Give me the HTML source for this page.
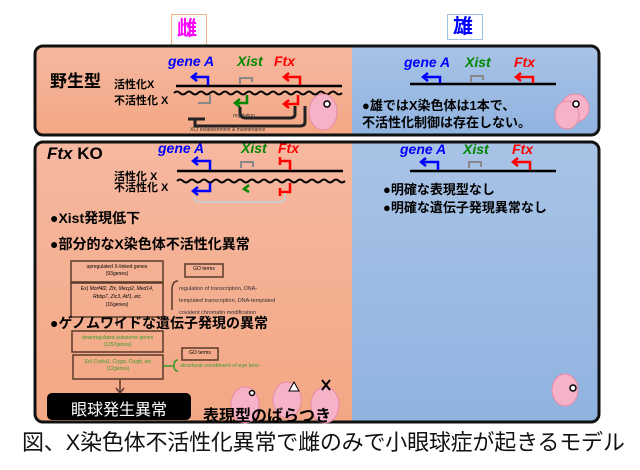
<!DOCTYPE html>
<html><head><meta charset="utf-8"><style>
*{margin:0;padding:0;box-sizing:border-box}
body{width:640px;height:470px;background:#fff;position:relative;overflow:hidden;font-family:"Liberation Sans","Noto Sans CJK JP",sans-serif}
.a{position:absolute;white-space:nowrap}
.b{font-weight:bold}
.i{font-style:italic;font-weight:bold}
</style></head><body>
<svg width="640" height="470" style="position:absolute;left:0;top:0">
<defs>
<linearGradient id="s" x1="0" y1="0" x2="0" y2="1"><stop offset="0" stop-color="#f6b8a0"/><stop offset="1" stop-color="#f3a784"/></linearGradient>
<linearGradient id="bl" x1="0" y1="0" x2="0" y2="1"><stop offset="0" stop-color="#a9c3e6"/><stop offset="1" stop-color="#8fb3e0"/></linearGradient>
<clipPath id="c1"><rect x="35" y="46" width="564" height="89" rx="8"/></clipPath>
<clipPath id="c2"><rect x="35" y="142" width="564" height="280" rx="8"/></clipPath>
</defs>
<rect x="171.5" y="14.5" width="35" height="33" fill="#fff" stroke="#f4b183"/>
<rect x="447.5" y="14.5" width="35" height="25" fill="#fff" stroke="#9dc3e6"/>
<g clip-path="url(#c1)"><rect x="34" y="45" width="318" height="92" fill="url(#s)"/><rect x="352" y="45" width="250" height="92" fill="url(#bl)"/></g>
<rect x="35" y="46" width="564" height="89" rx="8" fill="none" stroke="#111" stroke-width="3"/>
<g clip-path="url(#c2)"><rect x="34" y="141" width="318" height="283" fill="url(#s)"/><rect x="352" y="141" width="250" height="283" fill="url(#bl)"/></g>
<rect x="35" y="142" width="564" height="280" rx="8" fill="none" stroke="#111" stroke-width="3"/>

<g fill="none" stroke-width="2.5">
<line x1="176" y1="86" x2="342" y2="86" stroke="#000"/>
<path d="M174 93 q3 -3 6 0 t6 0 t6 0 t6 0 t6 0 t6 0 t6 0 t6 0 t6 0 t6 0 t6 0 t6 0 t6 0 t6 0 t6 0 t6 0 t6 0 t6 0 t6 0 t6 0 t6 0 t6 0 t6 0 t6 0 t6 0 t6 0 t6 0 t6 0" stroke="#000" stroke-width="2"/>
<path d="M208 85 V77 H193" stroke="#00f"/><path d="M197 73 L192 77 L197 81" stroke="#00f"/>
<path d="M240 84 V78 H252 V82" stroke="#888" stroke-width="2"/>
<path d="M300 85 V77 H285" stroke="#f00"/><path d="M289 73 L284 77 L289 81" stroke="#f00"/>
<path d="M210 95 V103 H198" stroke="#888" stroke-width="2"/>
<path d="M247 95 V103 H236" stroke="#080"/><path d="M240 99 L235 103 L240 107" stroke="#080"/>
<path d="M298 95 V104 H285" stroke="#f00"/><path d="M289 100 L284 104 L289 108" stroke="#f00"/>
<path d="M295 106 V114 Q295 118 290 118 H246 Q240 118 240 112 V107" stroke="#222" stroke-width="3"/>
<path d="M305 106 V122 Q305 126 300 126 H195 V119" stroke="#222" stroke-width="3"/>
<line x1="188" y1="119" x2="205" y2="119" stroke="#222" stroke-width="3"/>
</g>
<g fill="none" stroke-width="2.5">
<line x1="410" y1="84" x2="556" y2="84" stroke="#000"/>
<path d="M440 83 V77 H424" stroke="#00f"/><path d="M428 73 L423 77 L428 81" stroke="#00f"/>
<path d="M471 82 V76 H483 V80" stroke="#888" stroke-width="2"/>
<path d="M533 83 V77 H517" stroke="#f00"/><path d="M521 73 L516 77 L521 81" stroke="#f00"/>
</g>
<g fill="none" stroke-width="2.5">
<line x1="177" y1="171" x2="343" y2="171" stroke="#000"/>
<path d="M177 181 q3 -3 6 0 t6 0 t6 0 t6 0 t6 0 t6 0 t6 0 t6 0 t6 0 t6 0 t6 0 t6 0 t6 0 t6 0 t6 0 t6 0 t6 0 t6 0 t6 0 t6 0 t6 0 t6 0 t6 0 t6 0 t6 0 t6 0 t6 0 t6 0" stroke="#000" stroke-width="2"/>
<path d="M210 170 V161 H194" stroke="#00f"/><path d="M198 157 L193 161 L198 165" stroke="#00f"/>
<path d="M241 168 V162 H253 V167" stroke="#888" stroke-width="2"/>
<path d="M290 170 V161 H280 M280 157 V165" stroke="#f00"/>
<path d="M210 183 V191 H194" stroke="#00f"/><path d="M198 187 L193 191 L198 195" stroke="#00f"/>
<path d="M249 185 L244 189 L249 192" stroke="#080"/>
<path d="M290 183 V192 H280 M280 188 V196" stroke="#f00"/>
<path d="M194 197 Q194 202 200 202 H280 Q285 202 285 197 V193" stroke="#ccc" stroke-width="2"/>
</g>
<g fill="none" stroke-width="2.5">
<line x1="410" y1="171" x2="556" y2="171" stroke="#000"/>
<path d="M438 170 V162 H422" stroke="#00f"/><path d="M426 158 L421 162 L426 166" stroke="#00f"/>
<path d="M469 168 V162 H481 V167" stroke="#888" stroke-width="2"/>
<path d="M530 170 V162 H514" stroke="#f00"/><path d="M518 158 L513 162 L518 166" stroke="#f00"/>
</g>
<g fill="none" stroke="#5a3a2a" stroke-width="1.5">
<rect x="71" y="261" width="92" height="21"/><rect x="71" y="283" width="92" height="34"/>
<rect x="185" y="264" width="38" height="13"/>
<rect x="72" y="331" width="91" height="21"/><rect x="73" y="355" width="90" height="24"/>
<rect x="182" y="348" width="36" height="12"/>
<path d="M178 281 Q172 281 172 290 V310"/>
<line x1="120" y1="379" x2="120" y2="393"/><path d="M116 388 L120 393 L124 388"/>
<line x1="117" y1="317" x2="117" y2="326"/>
</g>
<path d="M163 366 H174 M178 360 Q174 360 174 366 Q174 371 178 371" fill="none" stroke="#3a9a2a" stroke-width="1.5"/>
<rect x="47" y="393" width="144" height="27" rx="5" fill="#000"/>
<g fill="#f6b2c6" stroke="#e88aa8" stroke-width="1">
<ellipse cx="323" cy="112" rx="14" ry="18"/><circle cx="575" cy="108" r="14"/><ellipse cx="567" cy="115" rx="12" ry="14"/>
<ellipse cx="565" cy="390" rx="13" ry="16"/><ellipse cx="245" cy="405" rx="14" ry="18"/><ellipse cx="287" cy="400" rx="14" ry="18"/><ellipse cx="325" cy="405" rx="14" ry="18"/>
</g>
<g fill="#fff" stroke="#000" stroke-width="1.5"><circle cx="327" cy="104" r="3"/><circle cx="576" cy="104" r="3"/><circle cx="573" cy="388" r="3"/><circle cx="252" cy="393" r="2.5"/></g>
<path d="M289 391 L294 382 L299 391 Z" fill="#fff" stroke="#000"/>
<path d="M322 380 L330 390 M330 380 L322 390" stroke="#000" stroke-width="2"/>
</svg>

<div class="a b" style="left:177px;top:16px;font-size:20px;color:#f0f;line-height:26px">雌</div>
<div class="a b" style="left:453px;top:14px;font-size:20px;color:#00f;line-height:26px">雄</div>

<div class="a b" style="left:50px;top:67px;font-size:17px">野生型</div>
<div class="a i" style="left:168px;top:53px;font-size:14px;color:#00f">gene A</div>
<div class="a i" style="left:237px;top:53px;font-size:14px;color:#080">Xist</div>
<div class="a i" style="left:274px;top:53px;font-size:14px;color:#f00">Ftx</div>
<div class="a b" style="left:114px;top:76px;font-size:11px">活性化X</div>
<div class="a b" style="left:114px;top:92px;font-size:11px">不活性化 X</div>
<div class="a" style="left:233px;top:113px;font-size:5px;color:#333">regulation</div>
<div class="a" style="left:190px;top:127px;font-size:5px;color:#333">XCI establishment &amp; maintenance</div>

<div class="a i" style="left:404px;top:54px;font-size:14px;color:#00f">gene A</div>
<div class="a i" style="left:465px;top:54px;font-size:14px;color:#080">Xist</div>
<div class="a i" style="left:514px;top:54px;font-size:14px;color:#f00">Ftx</div>
<div class="a b" style="left:362px;top:95px;font-size:13px">●雄ではX染色体は1本で、</div>
<div class="a b" style="left:362px;top:112px;font-size:13px">不活性化制御は存在しない。</div>

<div class="a b" style="left:47px;top:144px;font-size:17px"><i>Ftx</i> KO</div>
<div class="a i" style="left:158px;top:140px;font-size:14px;color:#00f">gene A</div>
<div class="a i" style="left:241px;top:140px;font-size:14px;color:#080">Xist</div>
<div class="a i" style="left:278px;top:140px;font-size:14px;color:#f00">Ftx</div>
<div class="a i" style="left:400px;top:141px;font-size:14px;color:#00f">gene A</div>
<div class="a i" style="left:463px;top:141px;font-size:14px;color:#080">Xist</div>
<div class="a i" style="left:512px;top:141px;font-size:14px;color:#f00">Ftx</div>
<div class="a b" style="left:114px;top:168px;font-size:11px">活性化 X</div>
<div class="a b" style="left:114px;top:179px;font-size:11px">不活性化 X</div>
<div class="a b" style="left:50px;top:208px;font-size:14px">●Xist発現低下</div>
<div class="a b" style="left:50px;top:234px;font-size:14px">●部分的なX染色体不活性化異常</div>
<div class="a" style="left:71px;top:264px;width:92px;text-align:center;font-size:5px;line-height:7px">upregulated X-linked genes<br>(93genes)</div>
<div class="a" style="left:71px;top:285px;width:92px;text-align:center;font-size:5px;line-height:8px">Ex) <i>Morf4l2, Zfx, Mecp2, Med14,<br>Rbbp7, Zic3, Atf1, etc</i><br>(16genes)</div>
<div class="a" style="left:185px;top:266px;width:38px;text-align:center;font-size:5px">GO terms</div>
<div class="a" style="left:179px;top:283px;font-size:5.5px;line-height:12px;color:#333">regulation of transcription, DNA-<br>templated transcription, DNA-templated<br>covalent chromatin modification</div>
<div class="a b" style="left:50px;top:313px;font-size:14px">●ゲノムワイドな遺伝子発現の異常</div>
<div class="a" style="left:72px;top:335px;width:91px;text-align:center;font-size:5px;line-height:7px;color:#3a9a2a">downregulated autosome genes<br>(1257genes)</div>
<div class="a" style="left:73px;top:359px;width:90px;text-align:center;font-size:5px;line-height:7px;color:#3a9a2a">Ex) <i>Cryba1, Cryga, Crygb, etc</i><br>(12genes)</div>
<div class="a" style="left:182px;top:350px;width:36px;text-align:center;font-size:5px">GO terms</div>
<div class="a" style="left:180px;top:363px;font-size:5.5px;color:#3a9a2a">structural constituent of eye lens</div>
<div class="a" style="left:47px;top:396px;width:144px;text-align:center;font-size:16px;color:#fff">眼球発生異常</div>
<div class="a b" style="left:203px;top:402px;font-size:16px">表現型のばらつき</div>

<div class="a b" style="left:383px;top:179px;font-size:13px">●明確な表現型なし</div>
<div class="a b" style="left:383px;top:197px;font-size:13px">●明確な遺伝子発現異常なし</div>

<div class="a" style="left:22px;top:425px;font-size:22px;color:#111;letter-spacing:-0.2px">図、X染色体不活性化異常で雌のみで小眼球症が起きるモデル</div>
</body></html>
